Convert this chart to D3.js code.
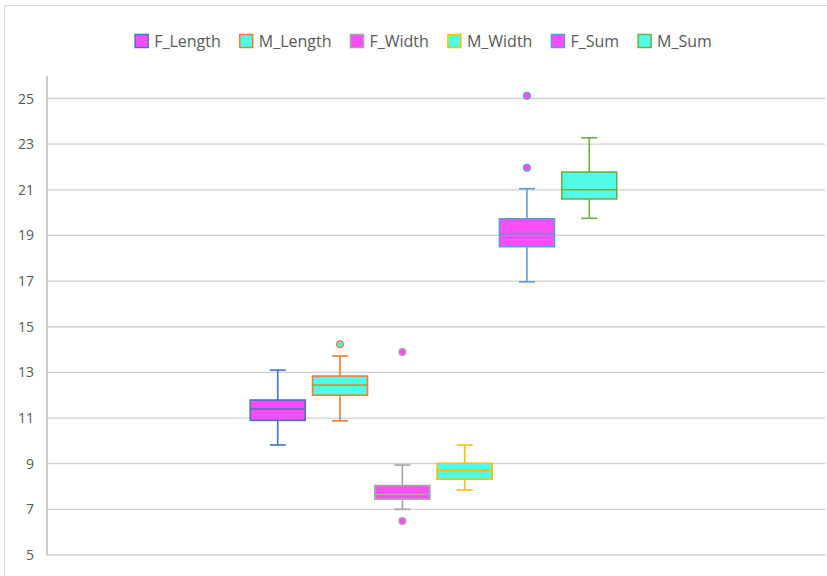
<!DOCTYPE html>
<html>
<head>
<meta charset="utf-8">
<script src="https://cdn.jsdelivr.net/npm/d3@7"></script>
<style>
  html, body { margin: 0; padding: 0; background: #fff; }
  svg { display: block; }
  text { font-family: "Open Sans", Lato, sans-serif; fill: #595959; }
</style>
</head>
<body>
<svg id="chart" width="827" height="576"></svg>
<script>
// Box-plot summaries per series
const series      = ["F_Length", "M_Length", "F_Width", "M_Width", "F_Sum", "M_Sum"];
const whiskerLow  = [9.82, 10.88, 7.0, 7.85, 16.97, 19.75];
const q1          = [10.9, 12.0, 7.45, 8.32, 18.51, 20.6];
const median      = [11.4, 12.45, 7.66, 8.71, 19.08, 21.0];
const q3          = [11.79, 12.84, 8.04, 9.02, 19.73, 21.78];
const whiskerHigh = [13.1, 13.72, 8.94, 9.82, 21.05, 23.28];
const outliers    = [[], [14.23], [13.89, 6.49], [], [25.12, 21.97], []];
const yTicks      = [5, 7, 9, 11, 13, 15, 17, 19, 21, 23, 25];

const fills   = ["#ff4ef7", "#52fbe6", "#ff4ef7", "#52fbe6", "#ff4ef7", "#52fbe6"];
const strokes = ["#4472c4", "#ed7d31", "#a5a5a5", "#ffc000", "#5b9bd5", "#70ad47"];

const svg = d3.select("#chart");

// outer frame (top and left edges)
svg.append("path")
  .attr("d", "M4.5,576 V5.5 H827")
  .attr("fill", "none").attr("stroke", "#d9d9d9").attr("stroke-width", 1.2);

const plotLeft = 47, plotRight = 825;
const y = d3.scaleLinear().domain([5, 26]).range([555, 75.7]);
const x = d3.scaleBand().domain(series).range([246.5, 620.5]).paddingInner(0.117).paddingOuter(0.06);

// gridlines
svg.append("g").selectAll("line").data(yTicks).join("line")
  .attr("x1", plotLeft).attr("x2", plotRight)
  .attr("y1", d => y(d)).attr("y2", d => y(d))
  .attr("stroke", "#cfcfcf").attr("stroke-width", 1.3);

// y axis
const yAxis = d3.axisLeft(y).tickValues(yTicks).tickSize(0).tickPadding(13);
const gy = svg.append("g").attr("transform", `translate(${plotLeft},0)`).call(yAxis);
gy.select(".domain").attr("stroke", "#bfbfbf").attr("stroke-width", 1.6)
  .attr("d", `M0,${y(26)}V${y(5)}`);
gy.selectAll("text").attr("font-size", 14).attr("fill", "#595959")
  .attr("font-family", "'Open Sans', Lato, sans-serif");

// boxes
const idx = d3.range(series.length);
const bw = x.bandwidth();
const cap = 16;
const g = svg.append("g");
idx.forEach(i => {
  const cx = x(series[i]) + bw / 2;
  const s = strokes[i];
  const gi = g.append("g").attr("stroke", s).attr("stroke-width", 1.6).attr("fill", "none");
  // whiskers
  gi.append("line").attr("x1", cx).attr("x2", cx).attr("y1", y(q3[i])).attr("y2", y(whiskerHigh[i]));
  gi.append("line").attr("x1", cx).attr("x2", cx).attr("y1", y(q1[i])).attr("y2", y(whiskerLow[i]));
  gi.append("line").attr("x1", cx - cap / 2).attr("x2", cx + cap / 2).attr("y1", y(whiskerHigh[i])).attr("y2", y(whiskerHigh[i]));
  gi.append("line").attr("x1", cx - cap / 2).attr("x2", cx + cap / 2).attr("y1", y(whiskerLow[i])).attr("y2", y(whiskerLow[i]));
  // box
  gi.append("rect").attr("x", x(series[i])).attr("width", bw)
    .attr("y", y(q3[i])).attr("height", y(q1[i]) - y(q3[i]))
    .attr("fill", fills[i]);
  gi.append("line").attr("x1", x(series[i])).attr("x2", x(series[i]) + bw)
    .attr("y1", y(median[i])).attr("y2", y(median[i]));
  // outliers
  gi.selectAll("circle").data(outliers[i]).join("circle")
    .attr("cx", cx).attr("cy", d => y(d)).attr("r", 3.4)
    .attr("fill", fills[i]).attr("stroke-width", 1.2);
});

// legend
const legend = svg.append("g").attr("transform", "translate(0,41)");
const items = legend.selectAll("g").data(idx).join("g");
items.append("rect").attr("width", 13).attr("height", 13).attr("y", -6.5)
  .attr("fill", i => fills[i]).attr("stroke", i => strokes[i]).attr("stroke-width", 1.5);
items.append("text").attr("x", 19).attr("dy", "0.35em").attr("font-size", 16)
  .text(i => series[i]);
let widths = [];
items.each(function() { widths.push(19 + d3.select(this).select("text").node().getComputedTextLength()); });
const gap = 19;
const total = d3.sum(widths) + gap * (widths.length - 1);
let cur = 423.5 - total / 2;
items.attr("transform", (d, k) => { const t = `translate(${cur},0)`; cur += widths[k] + gap; return t; });
</script>
</body>
</html>
